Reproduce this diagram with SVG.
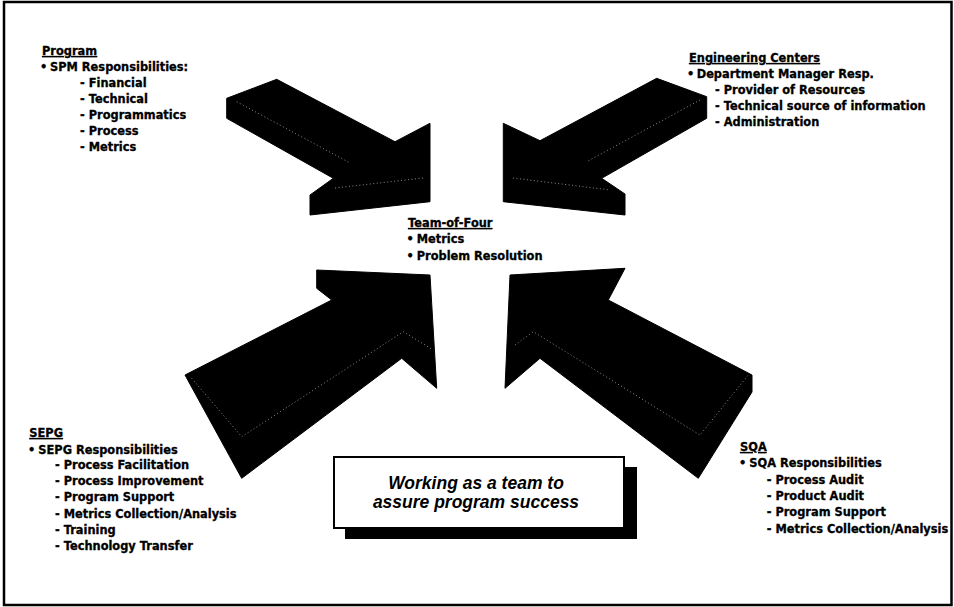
<svg xmlns="http://www.w3.org/2000/svg" width="954" height="607" viewBox="0 0 954 607">
<style>
  .t { font-family: "DejaVu Sans", "Liberation Sans", Arial, sans-serif; font-weight: bold; font-size: 11.4px; fill: #000; stroke: #000; stroke-width: 0.3; }
  .h { text-decoration: underline; }
  .arrow { fill: #000; stroke: #000; stroke-width: 1; stroke-linejoin: round; }
  .edge { fill: none; stroke: #9a9a9a; stroke-width: 0.9; stroke-dasharray: 1 2.5; }
  .box-text { font-family: "Liberation Sans", Arial, sans-serif; font-weight: bold; font-style: italic; font-size: 17.5px; fill: #000; }
</style>
<rect x="0" y="0" width="954" height="607" fill="#fff"/>
<rect x="4" y="2" width="947.5" height="603" fill="none" stroke="#000" stroke-width="2.5"/>

<g id="connectors">
  <g id="arrow-program">
    <polygon class="arrow" points="226.7,98.3 276.7,79.3 395,141.7 430,123.3 430,201.7 310,215 310,195 333.3,178.3 226.7,118.3"/>
    <polyline class="edge" points="236.7,101.7 350,163"/>
    <polyline class="edge" points="335,188 423,178"/>
  </g>
  <g id="arrow-engineering">
    <polygon class="arrow" points="656.7,78.3 706.7,96.7 706.7,118.3 601.7,178.3 625,194 625,215 503.3,201.7 503.3,123.3 540,140.7"/>
    <polyline class="edge" points="700,100 586.7,161.7"/>
    <polyline class="edge" points="513,178 610,190"/>
  </g>
  <g id="arrow-sepg">
    <polygon class="arrow" points="185,375 331.7,300 316.7,288.3 316.7,270 430,275 436.7,388.3 401.7,358.3 241.7,478.3"/>
    <polyline class="edge" points="191.7,378.3 241.7,436.7 403.3,331.7 433.3,350"/>
  </g>
  <g id="arrow-sqa">
    <polygon class="arrow" points="510,275 625,268.3 608.3,300 752,375 752,392 698.3,478.3 540,358.3 505,388.3"/>
    <polyline class="edge" points="515,345 533.3,331.7 700,435 748.3,375"/>
  </g>
</g>

<g id="node-program">
  <text class="t h" x="42" y="55">Program</text>
  <text class="t" x="40" y="71">•</text>
  <text class="t" x="50" y="71">SPM Responsibilities:</text>
  <text class="t" x="80" y="87">- Financial</text>
  <text class="t" x="80" y="102.5">- Technical</text>
  <text class="t" x="80" y="118.5">- Programmatics</text>
  <text class="t" x="80" y="135">- Process</text>
  <text class="t" x="80" y="151">- Metrics</text>
</g>

<g id="node-engineering">
  <text class="t h" x="689" y="62">Engineering Centers</text>
  <text class="t" x="687" y="78">•</text>
  <text class="t" x="696.7" y="78">Department Manager Resp.</text>
  <text class="t" x="715" y="94">- Provider of Resources</text>
  <text class="t" x="715" y="110">- Technical source of information</text>
  <text class="t" x="715" y="126">- Administration</text>
</g>

<g id="node-team">
  <text class="t h" x="408" y="227">Team-of-Four</text>
  <text class="t" x="406.5" y="243">•</text>
  <text class="t" x="416.7" y="243">Metrics</text>
  <text class="t" x="406.5" y="260">•</text>
  <text class="t" x="416.7" y="260">Problem Resolution</text>
</g>

<g id="node-sepg">
  <text class="t h" x="29.3" y="437">SEPG</text>
  <text class="t" x="28" y="453.5">•</text>
  <text class="t" x="38.3" y="453.5">SEPG Responsibilities</text>
  <text class="t" x="55" y="469">- Process Facilitation</text>
  <text class="t" x="55" y="485">- Process Improvement</text>
  <text class="t" x="55" y="501">- Program Support</text>
  <text class="t" x="55" y="517.5">- Metrics Collection/Analysis</text>
  <text class="t" x="55" y="533.5">- Training</text>
  <text class="t" x="55" y="550">- Technology Transfer</text>
</g>

<g id="node-sqa">
  <text class="t h" x="740" y="451">SQA</text>
  <text class="t" x="739" y="467">•</text>
  <text class="t" x="749.3" y="467">SQA Responsibilities</text>
  <text class="t" x="766.7" y="483.5">- Process Audit</text>
  <text class="t" x="766.7" y="500">- Product Audit</text>
  <text class="t" x="766.7" y="516">- Program Support</text>
  <text class="t" x="766.7" y="532.5">- Metrics Collection/Analysis</text>
</g>

<g id="node-motto">
  <rect x="345" y="467" width="292" height="72" fill="#000"/>
  <rect x="334" y="457" width="290" height="71" fill="#fff" stroke="#000" stroke-width="2"/>
  <text class="box-text" x="476" y="489" text-anchor="middle">Working as a team to</text>
  <text class="box-text" x="476" y="508" text-anchor="middle">assure program success</text>
</g>
</svg>
